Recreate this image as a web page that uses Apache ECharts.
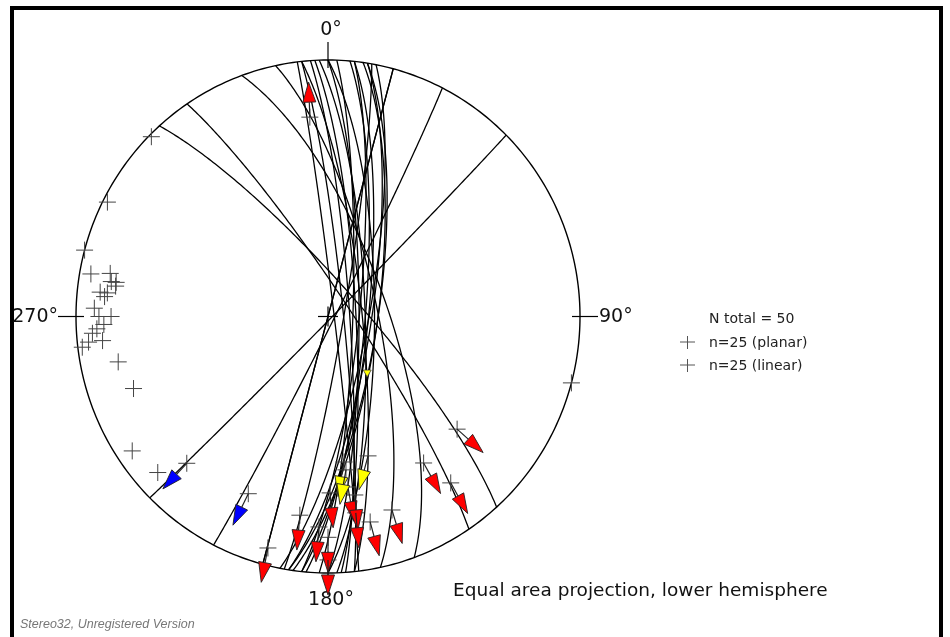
<!DOCTYPE html>
<html><head><meta charset="utf-8">
<script src="https://cdn.jsdelivr.net/npm/echarts@6/dist/echarts.min.js"></script>
<style>html,body{margin:0;padding:0;background:#fff}#c{width:950px;height:637px}</style>
</head><body><div id="c"></div>
<script>
// ---- Planes (fault planes): dip direction / dip, degrees ----
const planeDipDir = [135,117,105,100,99,99,96,96,95,90,90,87,86,84,83,84,78,70,56,48,285,101,98,88,92];
const planeDip    = [ 89, 88, 90, 85,76,74,80,77,78,80,75,81,83,85,88,79,74,71,83,80, 90, 77,74,78,82];

// ---- Lineations (slip lines): trend / plunge, arrow azimuth, sense ----
const lineTrend    = [354.7,224.4,204.6,194.8,130.6,146.4,143.1,161.4,188.2,182.5,180,180,179.3,173.2,171.3,171.8,168.2,163.7,173.6,173.2];
const linePlunge   = [23,21,25,7.4,33,32,20,21.5,22.8,19,15,5.7,31.8,33.5,30.3,23.7,19.3,42.8,42.4,39.6];
const arrowAzimuth = [358,223,206,191,132,151,151,163,185,185,180,180,175,170,175,175,165,195,190,190];
const arrowSense   = ['normal','reverse','reverse','normal','normal','normal','normal','normal','normal','normal','normal','normal','normal','normal','normal','normal','normal','strike','strike','strike'];

// small marker near centre
const minorTrend = [144.8];
const minorPlunge = [68];

const tickAzimuths = [0, 90, 180, 270];
const tickLabels = ['0°', '90°', '180°', '270°'];
const legendLines = ['N total = 50', 'n=25 (planar)', 'n=25 (linear)'];

const D = Math.PI / 180;
function projVec(E, N, Dn) {
  const h = Math.sqrt(E*E + N*N);
  const r = Math.sqrt(Math.max(0, 1 - Dn));
  if (h < 1e-9) return [0, 0];
  return [r * E / h, r * N / h];
}
function projTP(trend, plunge) {
  const t = trend * D, p = plunge * D;
  return projVec(Math.cos(p) * Math.sin(t), Math.cos(p) * Math.cos(t), Math.sin(p));
}
function greatCircle(dd, dip) {
  const st = (dd - 90) * D, dr = dd * D, dp = dip * D;
  const s = [Math.sin(st), Math.cos(st), 0];
  const d = [Math.sin(dr) * Math.cos(dp), Math.cos(dr) * Math.cos(dp), Math.sin(dp)];
  const pts = [];
  for (let k = 0; k <= 180; k += 1) {
    const c = Math.cos(k * D), sn = Math.sin(k * D);
    pts.push(projVec(c * s[0] + sn * d[0], c * s[1] + sn * d[1], Math.max(0, c * s[2] + sn * d[2])));
  }
  return pts;
}
const senseColor = { normal: '#ff0000', reverse: '#0000ff', strike: '#ffff00' };

const planeData = planeDipDir.map((dd, i) => [0, 0, dd, planeDip[i]]);
const poleData = planeDipDir.map((dd, i) => projTP((dd + 180) % 360, 90 - planeDip[i]));
const lineData = lineTrend.map((t, i) => projTP(t, linePlunge[i]));
const arrowData = lineTrend.map((t, i) => { const p = projTP(t, linePlunge[i]); return [p[0], p[1], arrowAzimuth[i], i]; });
const minorData = minorTrend.map((t, i) => projTP(t, minorPlunge[i]));

function crossItem(params, api) {
  const c = api.coord([api.value(0), api.value(1)]);
  return { type: 'group', children: [
    { type: 'line', shape: { x1: c[0] - 8.5, y1: c[1], x2: c[0] + 8.5, y2: c[1] }, style: { stroke: '#444', lineWidth: 1 } },
    { type: 'line', shape: { x1: c[0], y1: c[1] - 8.5, x2: c[0], y2: c[1] + 8.5 }, style: { stroke: '#444', lineWidth: 1 } }
  ]};
}

const chart = echarts.init(document.getElementById('c'), null, { renderer: 'canvas' });
chart.setOption({
  animation: false,
  grid: { left: 76, top: 60, width: 504, height: 513 },
  xAxis: { type: 'value', min: -1, max: 1, show: false },
  yAxis: { type: 'value', min: -1, max: 1, show: false },
  series: [
    { // primitive circle
      type: 'custom', clip: false, silent: true, data: [[0, 0]],
      renderItem: (params, api) => {
        const pts = [];
        for (let a = 0; a <= 360; a += 1) pts.push(api.coord(projTP(a, 0)));
        return { type: 'polyline', shape: { points: pts }, style: { stroke: '#000', lineWidth: 1.4, fill: null } };
      }
    },
    { // great circles
      type: 'custom', clip: false, silent: true, data: planeData,
      renderItem: (params, api) => {
        const pts = greatCircle(api.value(2), api.value(3)).map(p => api.coord(p));
        return { type: 'polyline', shape: { points: pts }, style: { stroke: '#000', lineWidth: 1.3, fill: null } };
      }
    },
    { // ticks, labels, centre cross
      type: 'custom', clip: false, silent: true, data: tickAzimuths.map((a, i) => [0, 0, a, i]),
      renderItem: (params, api) => {
        const a = api.value(2), i = api.value(3);
        const rim = api.coord(projTP(a, 0));
        const ctr = api.coord([0, 0]);
        const ux = Math.sin(a * D), uy = -Math.cos(a * D);
        const children = [
          { type: 'line', shape: { x1: rim[0] - 8 * ux, y1: rim[1] - 8 * uy, x2: rim[0] + 18 * ux, y2: rim[1] + 18 * uy }, style: { stroke: '#000', lineWidth: 1.2 } },
          { type: 'line', shape: { x1: ctr[0], y1: ctr[1], x2: ctr[0] + 10 * ux, y2: ctr[1] + 10 * uy }, style: { stroke: '#000', lineWidth: 1.2 } }
        ];
        let tx, ty, align, valign;
        if (a === 0) { tx = rim[0] + 3; ty = rim[1] - 30; align = 'center'; valign = 'middle'; }
        else if (a === 180) { tx = rim[0] + 3; ty = rim[1] + 27; align = 'center'; valign = 'middle'; }
        else if (a === 90) { tx = rim[0] + 19; ty = rim[1] + 1; align = 'left'; valign = 'middle'; }
        else { tx = rim[0] - 18; ty = rim[1] + 1; align = 'right'; valign = 'middle'; }
        children.push({ type: 'text', style: { text: tickLabels[i], x: tx, y: ty, align: align, verticalAlign: valign, fill: '#111', font: '19px "DejaVu Sans"' } });
        return { type: 'group', children };
      }
    },
    { type: 'custom', clip: false, silent: true, data: poleData, renderItem: crossItem },
    { type: 'custom', clip: false, silent: true, data: lineData, renderItem: crossItem },
    { // slip arrows
      type: 'custom', clip: false, silent: true, data: arrowData,
      renderItem: (params, api) => {
        const c = api.coord([api.value(0), api.value(1)]);
        const az = api.value(2) * D, idx = api.value(3);
        const ux = Math.sin(az), uy = -Math.cos(az);
        const px = -uy, py = ux;
        const b0 = 15, b1 = 35, hw = 6.5;
        const bx = c[0] + ux * b0, by = c[1] + uy * b0;
        const tx = c[0] + ux * b1, ty = c[1] + uy * b1;
        return { type: 'group', children: [
          { type: 'line', shape: { x1: c[0], y1: c[1], x2: bx, y2: by }, style: { stroke: '#222', lineWidth: 1.2 } },
          { type: 'polygon', shape: { points: [[bx + px * hw, by + py * hw], [bx - px * hw, by - py * hw], [tx, ty]] },
            style: { fill: senseColor[arrowSense[idx]], stroke: '#222', lineWidth: 0.9, lineJoin: 'round' } }
        ]};
      }
    },
    { // minor marker
      type: 'custom', clip: false, silent: true, data: minorData,
      renderItem: (params, api) => {
        const c = api.coord([api.value(0), api.value(1)]);
        return { type: 'polygon', shape: { points: [[c[0] - 4, c[1] - 3], [c[0] + 4, c[1] - 3], [c[0], c[1] + 4]] },
          style: { fill: '#ffff00', stroke: '#444', lineWidth: 0.8 } };
      }
    }
  ],
  graphic: [
    { type: 'rect', shape: { x: 12, y: 8, width: 929, height: 640 }, style: { fill: null, stroke: '#000', lineWidth: 4 } },
    { type: 'text', style: { text: legendLines[0], x: 709, y: 319, verticalAlign: 'middle', fill: '#222', font: '14px "DejaVu Sans"' } },
    { type: 'text', style: { text: legendLines[1], x: 709, y: 343, verticalAlign: 'middle', fill: '#222', font: '14px "DejaVu Sans"' } },
    { type: 'text', style: { text: legendLines[2], x: 709, y: 366, verticalAlign: 'middle', fill: '#222', font: '14px "DejaVu Sans"' } },
    { type: 'line', shape: { x1: 680, y1: 342, x2: 695, y2: 342 }, style: { stroke: '#555', lineWidth: 1 } },
    { type: 'line', shape: { x1: 687.5, y1: 336, x2: 687.5, y2: 349 }, style: { stroke: '#555', lineWidth: 1 } },
    { type: 'line', shape: { x1: 680, y1: 365, x2: 695, y2: 365 }, style: { stroke: '#555', lineWidth: 1 } },
    { type: 'line', shape: { x1: 687.5, y1: 359, x2: 687.5, y2: 372 }, style: { stroke: '#555', lineWidth: 1 } },
    { type: 'text', style: { text: 'Equal area projection, lower hemisphere', x: 453, y: 591, verticalAlign: 'middle', fill: '#111', font: '18.5px "DejaVu Sans"' } },
    { type: 'text', style: { text: 'Stereo32, Unregistered Version', x: 20, y: 625, verticalAlign: 'middle', fill: '#777', font: 'italic 12.5px "Liberation Sans"' } }
  ]
});
</script></body></html>
